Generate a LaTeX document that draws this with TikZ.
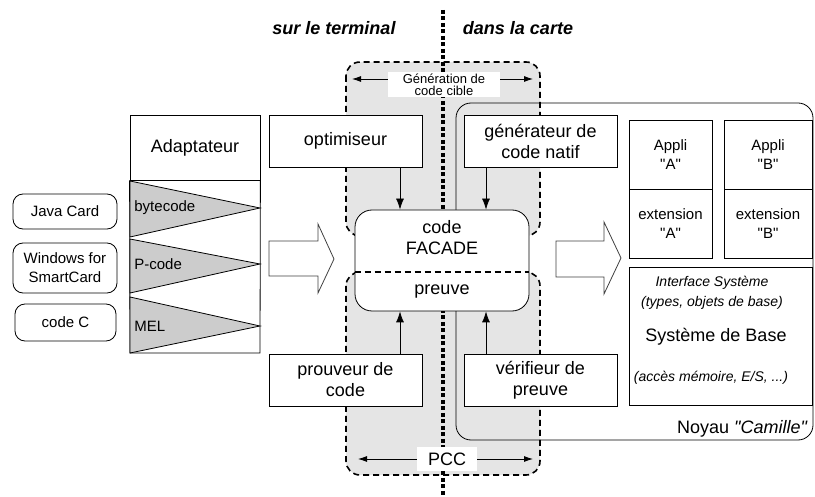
\documentclass[tikz,border=0pt]{standalone}
\usepackage{fontspec}
\setmainfont{Liberation Sans}[Ligatures=TeXOff]
\usetikzlibrary{arrows.meta}

\tikzset{
  >={Latex[length=11pt,width=8pt]},
  box/.style={draw, fill=white, line width=0.8pt, align=center, inner sep=0pt,
    font=\fontsize{18}{21}\selectfont},
  smallbox/.style={box, font=\fontsize{15}{19}\selectfont},
  src/.style={smallbox, rounded corners=10pt},
  txt/.style={align=center, inner sep=0pt, font=\fontsize{18}{21}\selectfont},
  ital/.style={align=center, inner sep=0pt, font=\fontsize{14}{20}\selectfont\itshape},
  heading/.style={inner sep=0pt, font=\fontsize{18}{21}\selectfont\bfseries\itshape},
  zone/.style={fill=gray!20, line width=1.6pt, dash pattern=on 6pt off 4pt, rounded corners=14pt},
  sepline/.style={line width=1.6pt, dash pattern=on 6pt off 4pt},
  divider/.style={line width=3.5pt, dash pattern=on 4pt off 2.5pt},
  span/.style={<->, >={Latex[length=9pt,width=6pt]}, line width=0.8pt},
  tag/.style={fill=white, align=center, inner sep=0pt},
  tri/.style={fill=gray!40, draw, line width=0.8pt},
  bigarrow/.style={draw=black!75, fill=white, line width=0.8pt}
}

\begin{document}
\begin{tikzpicture}[x=1pt,y=-1pt, line width=0.8pt]
  \useasboundingbox (0,0) rectangle (815,497);

  % zones grises
  \draw[zone] (346,62) rectangle (540,236);
  \draw[zone] (346,272) rectangle (540,475);

  % separation terminal / carte
  \coordinate (divtop) at (443,10);
  \coordinate (divbot) at (443,497);
  \draw[divider] (divtop) -- (divbot);

  \node[heading] (term) at (334,28) {sur le terminal};
  \node[heading] (carte) at (518,28) {dans la carte};

  % noyau
  \node[draw, rounded corners=15pt, minimum width=357, minimum height=337] (noyau) at (634.5,271.5) {};
  \node[txt, anchor=base east] (noyaulbl) at (808,434) {Noyau \textit{"Camille"}};

  % code FACADE
  \node[draw, fill=white, rounded corners=17pt, minimum width=174, minimum height=101] (facade) at (442,260.5) {};
  \node[txt] (code) at (442,238) {code\\FACADE};
  \node[txt] (preuve) at (442,292) {preuve};
  \coordinate (sep) at (442,272);
  \draw[sepline] (facade.west |- sep) -- (facade.east |- sep);

  % outils
  \node[box, minimum width=153, minimum height=52] (optim) at (345.5,141) {optimiseur};
  \node[box, minimum width=153, minimum height=52] (natif) at (540.5,141) {générateur de\\code natif};
  \node[box, minimum width=153, minimum height=52] (prouveur) at (345.5,380) {prouveur de\\code};
  \node[box, minimum width=153, minimum height=52] (verif) at (540.5,380) {vérifieur de\\preuve};

  \draw[->] ([xshift=54.5]optim.south) -- ([xshift=54.5]optim.south |- facade.north);
  \draw[->] ([xshift=-54.5]natif.south) -- ([xshift=-54.5]natif.south |- facade.north);
  \draw[->] ([xshift=54.5]prouveur.north) -- ([xshift=54.5]prouveur.north |- facade.south);
  \draw[->] ([xshift=-54.5]verif.north) -- ([xshift=-54.5]verif.north |- facade.south);

  % etiquettes des zones
  \coordinate (genL) at (352,79);
  \coordinate (genR) at (533,79);
  \draw[span] (genL) -- (genR);
  \node[tag, minimum width=112, minimum height=25, font=\fontsize{13}{12}\selectfont] (gen) at (444,84.5) {Génération de\\code cible};
  \coordinate (pccL) at (358,459);
  \coordinate (pccR) at (533,459);
  \draw[span] (pccL) -- (pccR);
  \node[tag, minimum width=60, minimum height=24, font=\fontsize{18}{21}\selectfont] (pcc) at (447,459) {PCC};

  % adaptateur
  \node[box, minimum width=130, minimum height=65] (adapt) at (195,147.5) {Adaptateur};
  \draw (adapt.south west) -- (130,353) -- (260,353) -- (adapt.south east);
  \foreach \t/\m/\b/\name [count=\i] in {181/208/237/bytecode, 239/264/293/P-code, 297/326/353/MEL}{
    \draw[tri] (130,\t) -- (260,\m) -- (130,\b) -- cycle;
    \node[anchor=west, inner sep=0pt, font=\fontsize{15}{18}\selectfont] (fmt\i) at (134,\m) {\name};
  }

  % sources
  \node[src, minimum width=104, minimum height=35] (javacard) at (65,211.5) {Java Card};
  \node[src, minimum width=104, minimum height=50] (windows) at (65,268) {Windows for\\SmartCard};
  \node[src, minimum width=101, minimum height=37] (codec) at (65.5,322.5) {code C};

  % fleches pleines
  \draw[bigarrow] (269,241) -- (318,241) -- (318,224) -- (334,259) -- (318,293) -- (318,276) -- (269,276) -- cycle;
  \draw[bigarrow] (556,241) -- (604,241) -- (604,222) -- (621,258) -- (604,294) -- (604,277) -- (556,277) -- cycle;

  % applications
  \node[smallbox, minimum width=83, minimum height=69] (appliA) at (670.5,154.5) {Appli\\"A"};
  \node[smallbox, minimum width=83, minimum height=69] (extA) at (670.5,223.5) {extension\\"A"};
  \node[smallbox, minimum width=88, minimum height=69] (appliB) at (768,154.5) {Appli\\"B"};
  \node[smallbox, minimum width=88, minimum height=69] (extB) at (768,223.5) {extension\\"B"};

  % systeme de base
  \node[box, minimum width=183, minimum height=138] (sysbase) at (720.5,336) {};
  \node[ital] (iface) at (712,293) {Interface Système\\(types, objets de base)};
  \node[txt] (sysname) at (716,337) {Système de Base};
  \node[ital] (acces) at (711,378) {(accès mémoire, E/S, ...)};
\end{tikzpicture}
\end{document}
